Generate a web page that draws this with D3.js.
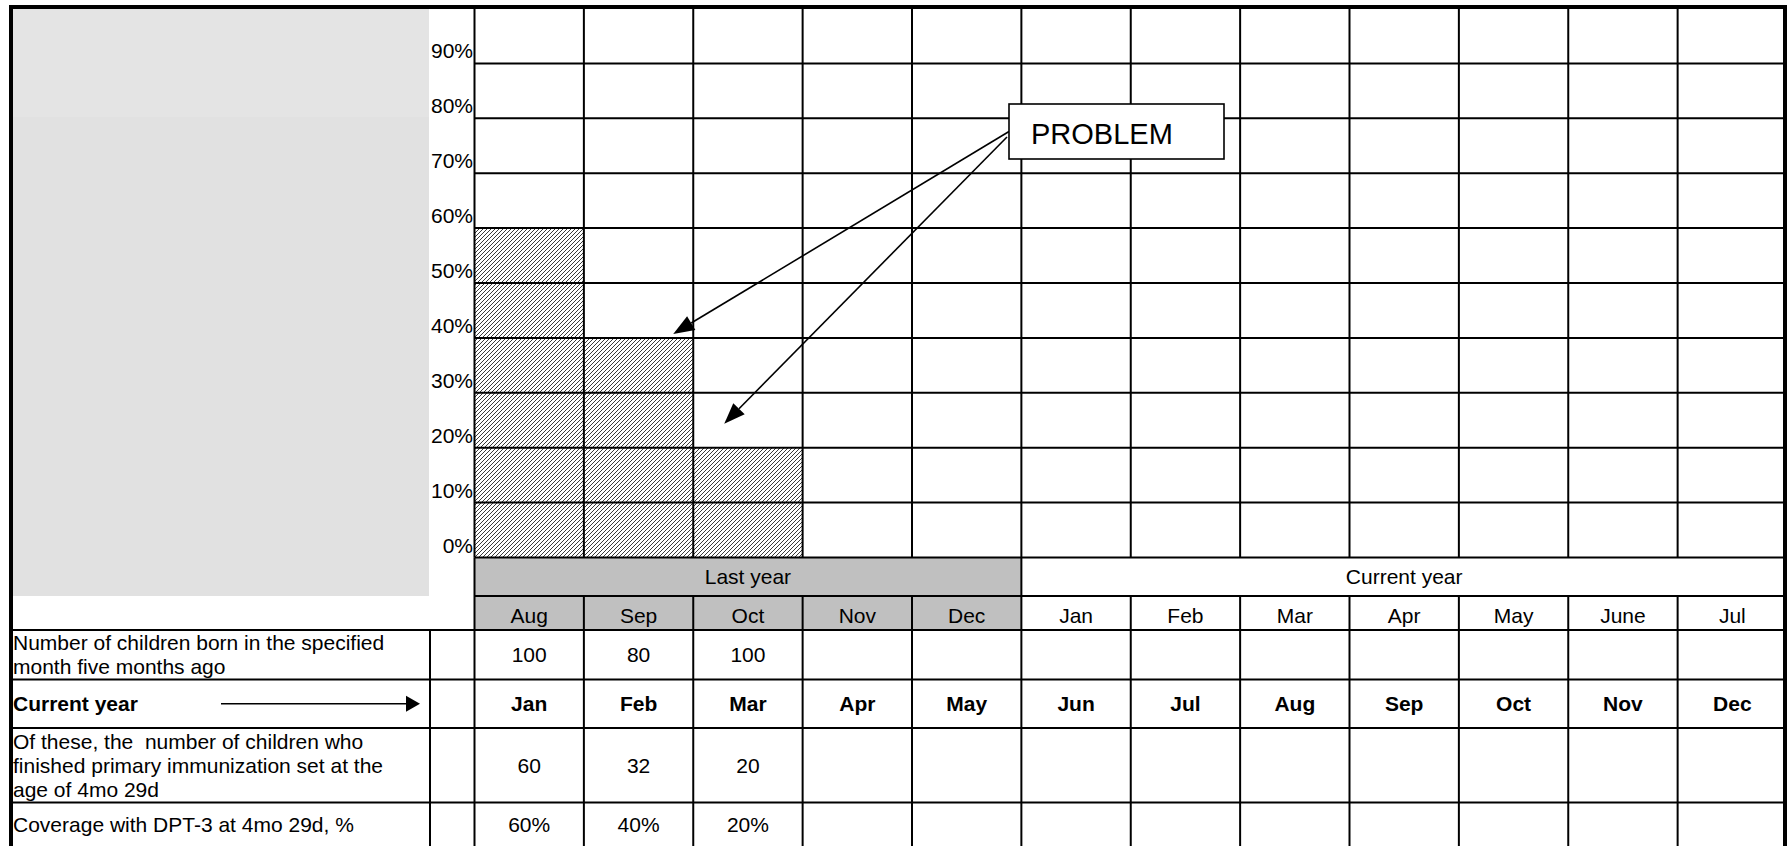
<!DOCTYPE html>
<html><head><meta charset="utf-8">
<script src="https://cdn.jsdelivr.net/npm/d3@7"></script>
<style>
html,body{margin:0;padding:0;background:#fff;}
svg{display:block;font-family:"Liberation Sans",Arial,sans-serif;}
text{white-space:pre;}
</style></head>
<body><svg id="chart" width="1787" height="846"></svg>
<script>
// ---- data ----
const months = ["Aug","Sep","Oct","Nov","Dec","Jan","Feb","Mar","Apr","May","June","Jul"];
const coverage = [0.6, 0.4, 0.2];          // bars for Aug, Sep, Oct
const yTicks = [0,0.1,0.2,0.3,0.4,0.5,0.6,0.7,0.8,0.9];
const bandLabels = ["Last year","Current year"];
const bandSizes = [5,7];
const currentYearMonths = ["Jan","Feb","Mar","Apr","May","Jun","Jul","Aug","Sep","Oct","Nov","Dec"];
const bornValues = ["100","80","100"];
const finishedValues = ["60","32","20"];
const coverageLabels = ["60%","40%","20%"];
const rowLabels = [
  ["Number of children born in the specified","month five months ago"],
  ["Current year"],
  ["Of these, the  number of children who","finished primary immunization set at the","age of 4mo 29d"],
  ["Coverage with DPT-3 at 4mo 29d, %"]
];
const problemLabel = "PROBLEM";
const problemTargets = [{month:"Sep", value:0.4}, {month:"Oct", value:0.2}];

// ---- layout ----
const svg = d3.select("#chart");
const plotL = 474.5, plotR = 1785.5;
const x = d3.scaleBand().domain(months).range([plotL, plotR + 1.5]).padding(0);
const y = d3.scaleLinear().domain([0,1]).range([557.5, 8.5]);
const FS = 21;
const lineW = 2;

const bandTop = 557.5, bandBot = 596, monthBot = 630;
const rowEdges = [630, 679.5, 728, 802.5, 846];
const labelColR = 430, leftB = 11;

// hatch pattern
const defs = svg.append("defs");
const pat = defs.append("pattern").attr("id","hatch").attr("patternUnits","userSpaceOnUse")
  .attr("width",4).attr("height",4);
pat.append("rect").attr("width",4).attr("height",4).attr("fill","#fff");
pat.append("path").attr("d","M-1,1 L1,-1 M0,4 L4,0 M3,5 L5,3").attr("stroke","#3a3a3a").attr("stroke-width",1.0);

// gray panel
svg.append("rect").attr("x",12).attr("y",9).attr("width",429-12).attr("height",117-9).attr("fill","#e4e4e4");
svg.append("rect").attr("x",12).attr("y",117).attr("width",429-12).attr("height",596-117).attr("fill","#e1e1e1");

// bars
svg.append("g").selectAll("rect").data(coverage).join("rect")
  .attr("x",(d,i)=>x(months[i])).attr("width",x.bandwidth())
  .attr("y",d=>y(d)).attr("height",d=>y(0)-y(d))
  .attr("fill","url(#hatch)");

// band row backgrounds
let acc = 0;
const bands = bandLabels.map((l,i)=>{const b={label:l,start:acc,end:acc+bandSizes[i]}; acc+=bandSizes[i]; return b;});
svg.append("g").selectAll("rect").data(bands).join("rect")
  .attr("x",d=>x(months[d.start])).attr("y",bandTop)
  .attr("width",d=>x.bandwidth()*(d.end-d.start)).attr("height",bandBot-bandTop)
  .attr("fill",(d,i)=>i===0?"#c0c0c0":"#fff");
// month row backgrounds (last year gray)
svg.append("g").selectAll("rect").data(months).join("rect")
  .attr("x",d=>x(d)).attr("y",bandBot).attr("width",x.bandwidth()).attr("height",monthBot-bandBot)
  .attr("fill",(d,i)=>i<bandSizes[0]?"#c0c0c0":"#fff");

// grid lines
const grid = svg.append("g").attr("stroke","#000").attr("stroke-width",lineW);
grid.selectAll("line.h").data(yTicks).join("line").attr("class","h")
  .attr("x1",plotL).attr("x2",plotR).attr("y1",d=>y(d)).attr("y2",d=>y(d));
const colEdges = months.map(m=>x(m)).concat([plotR]);
grid.selectAll("line.vp").data(colEdges).join("line").attr("class","vp")
  .attr("x1",d=>d).attr("x2",d=>d).attr("y1",y(1)).attr("y2",bandTop);
const bandEdges = bands.map(b=>x(months[b.start])).concat([plotR]);
grid.selectAll("line.vb").data(bandEdges).join("line").attr("class","vb")
  .attr("x1",d=>d).attr("x2",d=>d).attr("y1",bandTop).attr("y2",bandBot);
grid.selectAll("line.vt").data(colEdges).join("line").attr("class","vt")
  .attr("x1",d=>d).attr("x2",d=>d).attr("y1",bandBot).attr("y2",846);
grid.append("line").attr("x1",plotL).attr("x2",plotR).attr("y1",bandBot).attr("y2",bandBot);
grid.append("line").attr("x1",labelColR).attr("x2",labelColR).attr("y1",rowEdges[0]).attr("y2",846);
grid.selectAll("line.rt").data(rowEdges.slice(0,4)).join("line").attr("class","rt")
  .attr("x1",leftB).attr("x2",plotR).attr("y1",d=>d).attr("y2",d=>d);

// outer border
const border = svg.append("g").attr("stroke","#000").attr("stroke-width",4).attr("fill","none");
border.append("line").attr("x1",9).attr("x2",1787).attr("y1",7).attr("y2",7);
border.append("line").attr("x1",leftB).attr("x2",leftB).attr("y1",5).attr("y2",846);
border.append("line").attr("x1",1785).attr("x2",1785).attr("y1",5).attr("y2",846);

// y tick labels
svg.append("g").selectAll("text").data(yTicks).join("text")
  .attr("x",473).attr("y",d=>y(d)-5).attr("text-anchor","end")
  .attr("font-size",FS).attr("fill","#000").text(d=>d3.format(".0%")(d));

// band labels
svg.append("g").selectAll("text").data(bands).join("text")
  .attr("x",d=>(x(months[d.start])+x(months[d.end-1])+x.bandwidth())/2)
  .attr("y",(bandTop+bandBot)/2).attr("dy","0.36em").attr("text-anchor","middle")
  .attr("font-size",FS).text(d=>d.label);

// month labels
svg.append("g").selectAll("text").data(months).join("text")
  .attr("x",d=>x(d)+x.bandwidth()/2).attr("y",623).attr("text-anchor","middle")
  .attr("font-size",FS).text(d=>d);

// table values
function rowText(vals, r, bold){
  svg.append("g").selectAll("text").data(vals).join("text")
    .attr("x",(d,i)=>x(months[i])+x.bandwidth()/2)
    .attr("y",(rowEdges[r]+rowEdges[r+1])/2).attr("dy","0.36em")
    .attr("text-anchor","middle").attr("font-size",FS)
    .attr("font-weight",bold?"bold":"normal").text(d=>d);
}
rowText(bornValues,0,false);
rowText(currentYearMonths,1,true);
rowText(finishedValues,2,false);
rowText(coverageLabels,3,false);

// row labels
const lineH = 23.8;
rowLabels.forEach((lines,r)=>{
  const mid = (rowEdges[r]+rowEdges[r+1])/2;
  const t = svg.append("text").attr("x",13).attr("font-size",FS)
    .attr("font-weight", r===1?"bold":"normal");
  lines.forEach((ln,k)=>{
    t.append("tspan").attr("x",13)
      .attr("y", mid + (k-(lines.length-1)/2)*lineH).attr("dy","0.36em").text(ln);
  });
});

// current-year arrow
const arrowY = (rowEdges[1]+rowEdges[2])/2;
svg.append("line").attr("x1",221).attr("x2",408).attr("y1",arrowY).attr("y2",arrowY)
  .attr("stroke","#000").attr("stroke-width",1.5);
svg.append("path").attr("d",`M420,${arrowY} L406,${arrowY-8} L406,${arrowY+8} Z`).attr("fill","#000");

// PROBLEM callout
const box = {x:1009, y:104, w:215, h:55};
const starts = [[1009,131.5],[1007,137]];
const tipOffsets = [[x.bandwidth()-20,-4],[31,-24]];
problemTargets.forEach((t,i)=>{
  const tx = x(t.month) + tipOffsets[i][0];
  const ty = y(t.value) + tipOffsets[i][1];
  const [sx,sy] = starts[i];
  const dx = tx-sx, dy = ty-sy, L = Math.hypot(dx,dy), ux=dx/L, uy=dy/L;
  const hl = 21, hw = 8;
  const bx = tx-ux*hl, by = ty-uy*hl;
  svg.append("line").attr("x1",sx).attr("y1",sy).attr("x2",bx).attr("y2",by)
    .attr("stroke","#000").attr("stroke-width",1.6);
  svg.append("path").attr("d",`M${tx},${ty} L${bx-uy*hw},${by+ux*hw} L${bx+uy*hw},${by-ux*hw} Z`).attr("fill","#000");
});
svg.append("rect").attr("x",box.x).attr("y",box.y).attr("width",box.w).attr("height",box.h)
  .attr("fill","#fff").attr("stroke","#000").attr("stroke-width",1.6);
svg.append("text").attr("x",1031).attr("y",143.5).attr("font-size",29).text(problemLabel);
</script>
</body></html>
